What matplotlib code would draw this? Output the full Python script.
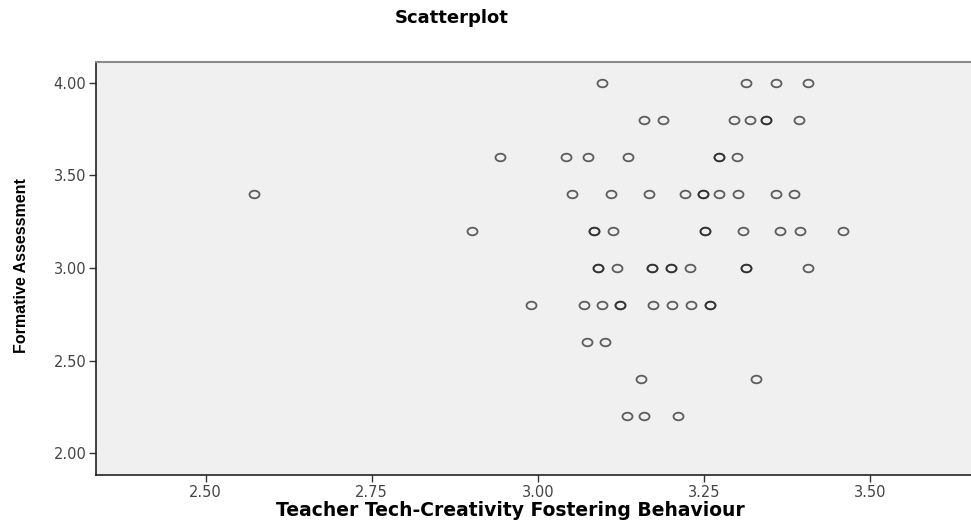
import matplotlib
matplotlib.use("Agg")
import matplotlib.pyplot as plt
from matplotlib.path import Path
from matplotlib.transforms import Affine2D

# %% data (rows of equal Formative Assessment)
fa_400 = [3.097, 3.313, 3.359, 3.406]
fa_380 = [3.160, 3.188, 3.295, 3.319, 3.344, 3.344, 3.393]
fa_360 = [2.943, 3.043, 3.075, 3.135, 3.272, 3.272, 3.300]
fa_340 = [2.573, 3.051, 3.110, 3.167, 3.222, 3.248, 3.248, 3.272, 3.302, 3.359, 3.385]
fa_320 = [2.901, 3.084, 3.084, 3.113, 3.252, 3.252, 3.309, 3.365, 3.395, 3.459]
fa_300 = [3.091, 3.091, 3.119, 3.172, 3.172, 3.200, 3.200, 3.229, 3.313, 3.313, 3.406]
fa_280 = [2.990, 3.069, 3.096, 3.123, 3.123, 3.174, 3.202, 3.230, 3.259, 3.259]
fa_260 = [3.074, 3.101]
fa_240 = [3.155, 3.328]
fa_220 = [3.134, 3.160, 3.211]

rows = {4.0: fa_400, 3.8: fa_380, 3.6: fa_360, 3.4: fa_340, 3.2: fa_320,
        3.0: fa_300, 2.8: fa_280, 2.6: fa_260, 2.4: fa_240, 2.2: fa_220}

x_ticks = [2.50, 2.75, 3.00, 3.25, 3.50]
y_ticks = [2.00, 2.50, 3.00, 3.50, 4.00]

# %% plot
W, H = 971, 526
fig = plt.figure(figsize=(W / 100, H / 100), dpi=100)
ax = fig.add_axes([96 / W, 1 - 475 / H, (W - 96) / W, (475 - 61.7) / H])
ax.set_facecolor("#f0f0f0")

# SPSS style slightly flattened open circle
ellipse = Path.unit_circle().transformed(Affine2D().scale(1, 0.76))

for fa, teach in rows.items():
    ax.plot(teach, [fa] * len(teach), linestyle="none", marker=ellipse,
            markersize=7.2, markerfacecolor="none", markeredgewidth=1.3,
            markeredgecolor=(0.12, 0.12, 0.12, 0.7))

ax.set_xlim(2.335, 3.652)
ax.set_ylim(1.883, 4.113)
ax.set_xticks(x_ticks)
ax.set_yticks(y_ticks)
ax.set_xticklabels([f"{t:.2f}" for t in x_ticks])
ax.set_yticklabels([f"{t:.2f}" for t in y_ticks])
ax.tick_params(direction="out", length=5, width=1, color="#333333",
               labelsize=10.5, labelcolor="#444444", pad=2)
for lbl in ax.get_xticklabels() + ax.get_yticklabels():
    lbl.set_family("DejaVu Sans")

for s in ["left", "bottom"]:
    ax.spines[s].set_color("#222222")
    ax.spines[s].set_linewidth(1.2)
ax.spines["top"].set_color("#8a8a8a")
ax.spines["top"].set_linewidth(1.5)
ax.spines["right"].set_visible(False)

fig.text(452 / W, 1 - 18 / H, "Scatterplot", ha="center", va="center",
         fontsize=13, fontweight="bold", family="DejaVu Sans")
fig.text(510 / W, 1 - 510 / H, "Teacher Tech-Creativity Fostering Behaviour",
         ha="center", va="center", fontsize=13.5, fontweight="bold",
         family="DejaVu Sans")
fig.text(22 / W, 1 - 266 / H, "Formative Assessment", ha="center", va="center",
         rotation=90, fontsize=11.5, fontweight="bold",
         family="Liberation Sans")

fig.savefig("out.png", dpi=100)
